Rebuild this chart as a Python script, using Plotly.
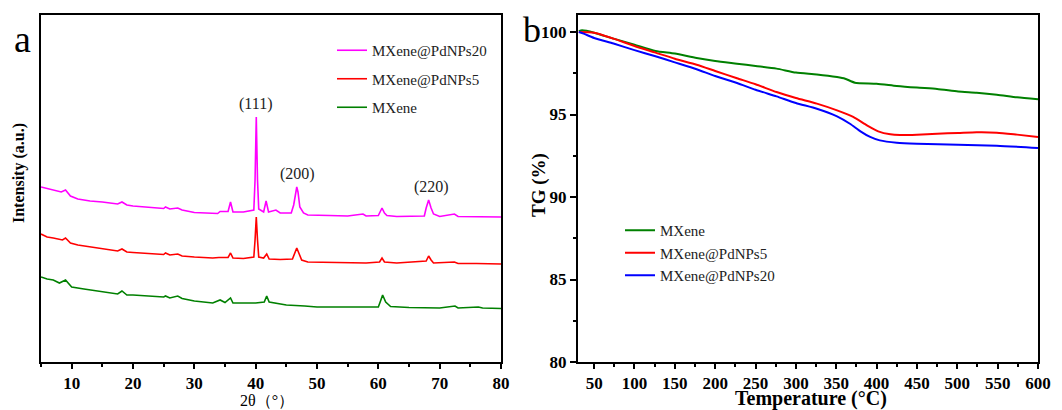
import plotly.graph_objects as go

# ---------------- XRD data (panel a) ----------------
xrd_x_pd20 = [5, 7, 8.3, 9, 9.8, 11, 13, 15, 17.5, 18.2, 19, 20, 22, 25, 25.3, 26, 27.3, 28, 30, 32,
              33.8, 34.2, 35.5, 35.9, 36.3, 38, 39.7, 39.9, 40.1, 40.3, 40.5, 41.3, 41.7, 42.1, 43.3, 44,
              45.8, 46.2, 46.5, 46.7, 46.9, 47.2, 47.8, 48.5, 52, 55, 57.5, 58, 60, 60.2, 60.6, 61.0,
              61.4, 63, 67.5, 67.8, 68.2, 68.6, 69, 70, 72.4, 73, 76, 80]
xrd_y_pd20 = [175, 172, 170, 172, 166, 163, 161, 160, 158, 160, 157, 156, 155, 153.5, 155, 153, 154, 152, 149.5, 149,
              148.5, 150.5, 150.5, 160, 150, 150, 152, 182, 245, 182, 153, 150, 161, 150, 152, 149,
              149, 157, 170, 175, 170, 155, 149, 147, 146.5, 146, 148, 146, 146.5, 149, 154, 149,
              146.5, 145.5, 146, 154, 162, 154, 148, 145.5, 148, 145.5, 145.5, 145]

xrd_x_pd5 = [5, 6, 7, 8.5, 9, 9.8, 11, 13, 15, 17.5, 18.2, 19, 20, 22, 25, 25.3, 26, 27.3, 28, 30, 33,
             34, 35.5, 35.9, 36.3, 38, 39.7, 39.9, 40.1, 40.3, 40.5, 41.3, 41.8, 42.2, 44, 46, 46.3, 46.7,
             47.1, 47.5, 48.5, 52, 55, 58, 60.2, 60.6, 61, 63, 67.8, 68.2, 68.6, 69, 72.4, 73, 76, 80]
xrd_y_pd5 = [128, 125, 124, 122, 124, 119, 117, 115, 113, 111, 113, 110, 109.5, 109, 107.5, 109, 107, 108, 106, 105, 104,
             104.5, 104.5, 109, 104, 103.5, 105, 122, 145, 122, 105, 104, 108, 103, 102.5, 103, 107, 114,
             108, 102, 100, 99.5, 99, 99, 100, 104, 100, 99, 101, 106, 102, 99, 100, 98.5, 98.5, 98]

xrd_x_mx = [5, 6, 7, 8, 9, 9.5, 10, 12, 15, 17.5, 18.2, 19, 20, 23, 25, 25.3, 26, 27.3, 28, 30, 33,
            34.2, 35, 35.9, 36.3, 38, 40, 41.4, 41.8, 42.2, 45, 48, 50, 55, 60, 60.3, 60.7, 61.2, 62,
            65, 70, 72.5, 73, 76.3, 77, 80]
xrd_y_mx = [85, 83, 82, 79, 82, 79, 75, 73, 70, 68, 71, 67, 67, 66, 65, 66, 64, 66, 63.5, 61, 59,
            62, 59.5, 64, 59, 59, 59, 60, 66, 60, 57, 56, 55, 55, 55, 60, 67, 60, 55.5,
            54.5, 54, 56, 54, 55, 54, 53.5]

xrd_names = ["MXene@PdNPs20", "MXene@PdNPs5", "MXene"]
xrd_colors = ["#FF00FF", "#FF0000", "#008000"]

peak_labels = ["(111)", "(200)", "(220)"]
peak_label_x = [39.9, 46.9, 68.6]
peak_label_y = [258, 188, 175]

# ---------------- TG data (panel b) ----------------
tg_T_mx = [31, 35, 50, 74, 100, 126, 150, 177, 200, 227, 250, 276, 300, 326, 351, 361, 373, 400,
           425, 450, 475, 501, 524, 549, 574, 600]
tg_mx = [100.05, 100.1, 99.96, 99.6, 99.23, 98.85, 98.69, 98.42, 98.24, 98.08, 97.94, 97.78, 97.54,
         97.43, 97.27, 97.17, 96.93, 96.87, 96.73, 96.63, 96.55, 96.40, 96.32, 96.20, 96.04, 95.92]

tg_T_pd5 = [31, 50, 74, 100, 126, 150, 177, 200, 227, 250, 276, 300, 326, 351, 371, 388, 402, 417,
            429, 450, 475, 501, 524, 549, 574, 600]
tg_pd5 = [100.0, 99.96, 99.6, 99.15, 98.75, 98.38, 98.02, 97.64, 97.2, 96.83, 96.36, 96.0, 95.66,
          95.25, 94.85, 94.34, 93.98, 93.8, 93.76, 93.78, 93.84, 93.88, 93.92, 93.9, 93.78, 93.64]

tg_T_pd20 = [31, 37, 50, 74, 100, 126, 150, 177, 200, 227, 250, 276, 300, 326, 351, 367, 380, 392,
             404, 425, 450, 501, 549, 600]
tg_pd20 = [100.0, 99.9, 99.64, 99.3, 98.9, 98.53, 98.16, 97.74, 97.33, 96.91, 96.5, 96.1, 95.7,
           95.35, 94.89, 94.44, 93.98, 93.64, 93.43, 93.29, 93.23, 93.17, 93.11, 92.97]

tg_names = ["MXene", "MXene@PdNPs5", "MXene@PdNPs20"]
tg_colors = ["#008000", "#FF0000", "#0000FF"]

SERIF = "Liberation Serif, Times New Roman, serif"

fig = go.Figure()

for xs, ys, nm, col in zip([xrd_x_pd20, xrd_x_pd5, xrd_x_mx], [xrd_y_pd20, xrd_y_pd5, xrd_y_mx],
                           xrd_names, xrd_colors):
    fig.add_trace(go.Scatter(x=xs, y=ys, mode="lines", name=nm, line=dict(color=col, width=1.6),
                             xaxis="x", yaxis="y", legend="legend", legendgroup="a" + nm))

for xs, ys, nm, col in zip([tg_T_mx, tg_T_pd5, tg_T_pd20], [tg_mx, tg_pd5, tg_pd20], tg_names, tg_colors):
    fig.add_trace(go.Scatter(x=xs, y=ys, mode="lines", name=nm,
                             line=dict(color=col, width=2, shape="spline", smoothing=0.6),
                             xaxis="x2", yaxis="y2", legend="legend2"))

L, R, T, B = 41, 24, 15, 48
W, H = 1062, 410
PW, PH = W - L - R, H - T - B


def px(xp):
    return (xp - L) / PW


def py(yp):
    return (H - B - yp) / PH


tickfont = dict(family=SERIF, size=17, color="black", weight="bold")
axis_common = dict(showline=True, linecolor="black", linewidth=2, mirror=True, showgrid=False,
                   zeroline=False, tickwidth=1.5, tickcolor="black", tickfont=tickfont,
                   tickprefix="<b>", ticksuffix="</b>")


def minor(dt, t0):
    return dict(ticks="outside", ticklen=3, dtick=dt, tick0=t0, tickcolor="black", tickwidth=1.5)


fig.update_layout(
    width=W, height=H,
    margin=dict(l=L, r=R, t=T, b=B),
    paper_bgcolor="white", plot_bgcolor="white",
    xaxis=dict(domain=[0, px(501)], range=[5, 80], tick0=0, dtick=10, ticks="outside", ticklen=5,
               minor=minor(5, 0), anchor="y", **axis_common),
    yaxis=dict(domain=[0, 1], range=[0, 347], showticklabels=False, anchor="x", ticks="",
               **axis_common),
    xaxis2=dict(domain=[px(578), 1], range=[30, 600], tick0=0, dtick=50, ticks="outside", ticklen=5,
                minor=minor(25, 0), anchor="y2", **axis_common),
    yaxis2=dict(domain=[0, 1], range=[80, 101.03], tick0=80, dtick=5, ticks="outside", ticklen=6,
                minor=minor(2.5, 80), anchor="x2", **axis_common),
    legend=dict(x=px(332), y=py(34), xanchor="left", yanchor="top", bgcolor="rgba(0,0,0,0)",
                font=dict(family=SERIF, size=15, color="#222"), tracegroupgap=6, traceorder="grouped"),
    legend2=dict(x=px(620), y=py(214), xanchor="left", yanchor="top", bgcolor="rgba(0,0,0,0)",
                 font=dict(family=SERIF, size=15, color="#222"), traceorder="normal"),
    showlegend=True,
)

for t, xv, yv in zip(peak_labels, peak_label_x, peak_label_y):
    fig.add_annotation(x=xv, y=yv, xref="x", yref="y", text=t, showarrow=False,
                       font=dict(family=SERIF, size=16, color="#222"))

ann = [
    ("a", px(22), py(39), 38, "normal", 0),
    ("b", px(532), py(30), 36, "normal", 0),
    ("Intensity (a.u.)", px(19), py(173), 16, "bold", -90),
    ("TG (%)", px(539), py(185), 19, "bold", -90),
    ("2θ（°）", px(267), py(400), 16, "normal", 0),
    ("Temperature (°C)", px(811), py(398), 20, "bold", 0),
]
for text, xv, yv, size, weight, ang in ann:
    fig.add_annotation(x=xv, y=yv, xref="paper", yref="paper", text=text, showarrow=False,
                       xanchor="center", yanchor="middle", textangle=ang,
                       font=dict(family=SERIF, size=size, color="black", weight=weight))

fig.write_html("out.html", config={"displayModeBar": False},
               post_script="document.body.style.margin='0px';")
